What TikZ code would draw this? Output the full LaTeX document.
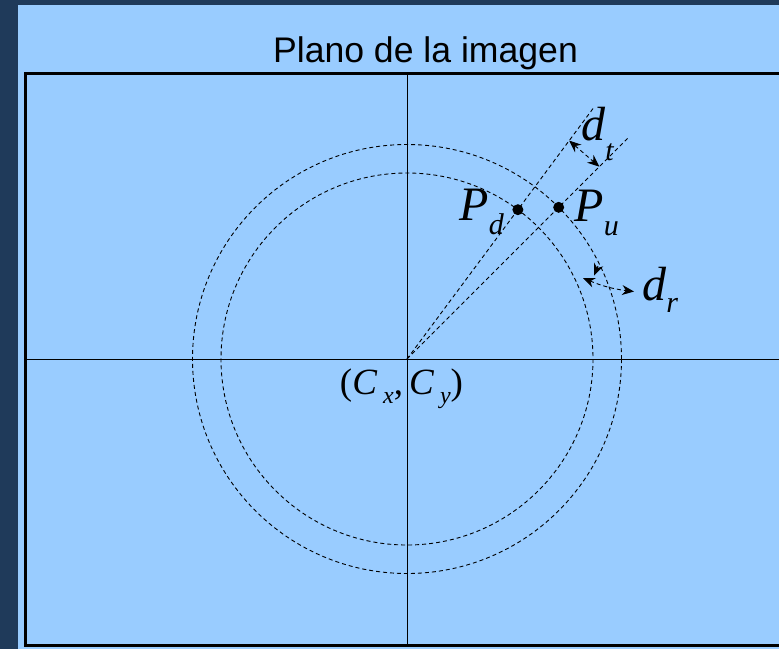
\documentclass[tikz,border=0pt]{standalone}
\usepackage{fontspec}
\setmainfont{Liberation Serif}
\newfontfamily\titlefont{Liberation Sans}
\usetikzlibrary{positioning,arrows.meta,calc}
\definecolor{panelblue}{HTML}{99CCFF}
\definecolor{framedark}{HTML}{1F3A5A}
% italic symbol with a lowered subscript: [drop]{base}{sub}
\newcommand{\symsub}[3][14pt]{\textit{#2}\raisebox{-#1}{\fontsize{30}{32}\selectfont\textit{#3}}}

\begin{document}
\begin{tikzpicture}[
        x=1pt, y=-1pt,
        every node/.style={inner sep=0pt},
        axis/.style={line width=0.9pt},
        guide/.style={dash pattern=on 4pt off 3pt, line width=0.9pt},
        tips/.style={{Stealth[length=12pt,width=10pt]}-{Stealth[length=12pt,width=10pt]}},
        dot/.style={circle, fill=black, minimum size=11pt},
        sym/.style={font=\fontsize{48}{50}\selectfont}
    ]
    \useasboundingbox (0,0) rectangle (779,649);
    \clip (0,0) rectangle (779,649);
    \fill[framedark] (0,0) rectangle (779,649);
    \fill[panelblue] (18,5) rectangle (779,649);

    \node[font=\titlefont\fontsize{35.6}{40}\selectfont, anchor=base] (title) at (425.5,62) {Plano de la imagen};

    % image plane and axes
    \coordinate (tl) at (25.5,73.5);
    \coordinate (br) at (790,645.5);
    \draw[line width=2.6pt] (tl) rectangle (br);
    \coordinate (c) at (407,359);
    \coordinate (xl) at (25.5,359);
    \coordinate (xr) at (779,359);
    \coordinate (yt) at (407,73.5);
    \coordinate (yb) at (407,645.5);
    \draw[axis] (xl) -- (xr);
    \draw[axis] (yt) -- (yb);

    % circles and rays
    \draw[guide] (c) circle[radius=186];
    \draw[guide] (c) circle[radius=214.5];
    \coordinate (rayd) at ($(c)+(-53.4:312)$);
    \coordinate (rayu) at ($(c)+(-45:312)$);
    \draw[guide] (c) -- (rayd);
    \draw[guide] (c) -- (rayu);

    \node[dot] (pd) at ($(c)+(-53.4:186)$) {};
    \node[dot] (pu) at ($(c)+(-45:214.5)$) {};
    \node[sym, left=8pt of pd, yshift=-2pt] (pdlbl) {\symsub{P}{d}};
    \node[sym, right=10pt of pu, yshift=-6pt] (pulbl) {\symsub{P}{u}};

    % d_t between the rays
    \coordinate (dta) at ($(c)+(-53.4:272)$);
    \coordinate (dtb) at ($(c)+(-45:272)$);
    \draw[guide, tips] (dta) -- (dtb);
    \node[sym, anchor=base west] (dtlbl) at (581,140) {\symsub[20pt]{d}{t}};

    % d_r between the circles
    \coordinate (dra) at (583,278);
    \coordinate (drb) at (634,291.5);
    \coordinate (drc) at (598,266);
    \coordinate (drd) at (594,275.5);
    \draw[guide, tips] (dra) to[bend right=8] (drb);
    \draw[guide, -{Stealth[length=12pt,width=10pt]}] (drc) -- (drd);
    \node[sym, anchor=base west] (drlbl) at (642,300) {\symsub[12pt]{d}{r}};

    \node[font=\fontsize{37}{40}\selectfont, below=10pt of c, xshift=-5.5pt] (clbl)
        {(\symsub[9pt]{C\,}{\fontsize{24}{26}\selectfont x},\,\symsub[9pt]{C\,}{\fontsize{24}{26}\selectfont y})};
\end{tikzpicture}
\end{document}
